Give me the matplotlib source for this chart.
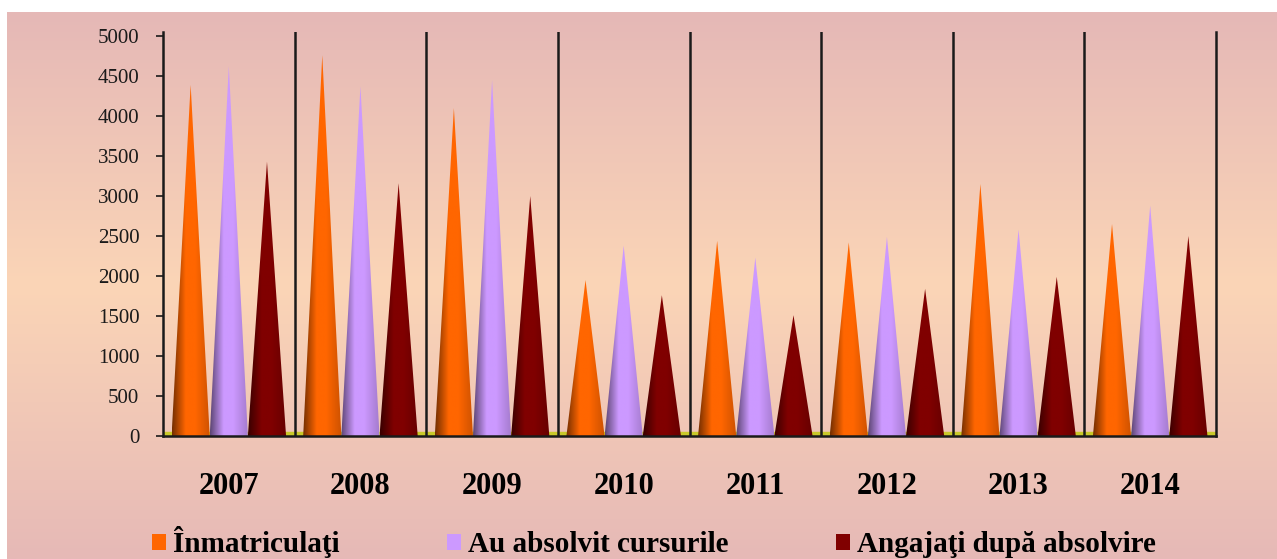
import numpy as np
import matplotlib
matplotlib.use("Agg")
import matplotlib.pyplot as plt
from matplotlib.patches import Polygon, Patch
from matplotlib.colors import to_rgb

# Data
years = ["2007", "2008", "2009", "2010", "2011", "2012", "2013", "2014"]
inmatriculati = [4390, 4760, 4100, 1950, 2440, 2420, 3150, 2650]
absolventi = [4620, 4370, 4450, 2380, 2230, 2490, 2580, 2880]
angajati = [3430, 3160, 3000, 1760, 1510, 1840, 1990, 2500]

series_names = ["Înmatriculaţi", "Au absolvit cursurile", "Angajaţi după absolvire"]
series_colors = ["#FF6600", "#CC99FF", "#800000"]
yticks = [0, 500, 1000, 1500, 2000, 2500, 3000, 3500, 4000, 4500, 5000]

plt.rcParams['font.family'] = ['Liberation Serif', 'DejaVu Serif']

fig = plt.figure(figsize=(12.77, 5.59), dpi=100)
fig.patch.set_facecolor("white")

# gradient background (pink -> peach -> pink), white margin on top/left
bg = fig.add_axes([7 / 1277, 0, 1 - 7 / 1277, (559 - 12) / 559], zorder=-5)
top = np.array([229, 184, 183]) / 255
mid = np.array([251, 213, 182]) / 255
bot = np.array([230, 185, 183]) / 255
t = np.linspace(0, 1, 300)[:, None]
grad = np.where(t < 0.5, top + (mid - top) * (t / 0.5), mid + (bot - mid) * ((t - 0.5) / 0.5))
bg.imshow(grad[:, None, :], aspect="auto", extent=[0, 1, 0, 1])
bg.axis("off")

ax = fig.add_axes([163 / 1277, 1 - 436 / 559, (1216 - 163) / 1277, (436 - 32) / 559])
ax.set_facecolor("none")
ymax = 5000 * (436 - 32) / (436 - 36)
ax.set_xlim(-0.5, len(years) - 0.5)
ax.set_ylim(0, ymax)

# floor
ax.axhspan(0, 55, color="#c9c92a", zorder=1)

# horizontal shading profile across a cone
u = np.linspace(0, 1, 120)
shade = np.interp(u, [0, 0.35, 0.6, 1], [0.45, 1.0, 1.0, 0.8])

width = 0.29
offsets = [-width, 0, width]
all_series = [inmatriculati, absolventi, angajati]
x = np.arange(len(years))
for s, vals in enumerate(all_series):
    base = np.array(to_rgb(series_colors[s]))
    img = np.clip(shade[:, None] * base[None, :], 0, 1)[None, :, :]
    for i, v in enumerate(vals):
        cx = x[i] + offsets[s]
        x0, x1 = cx - width / 2, cx + width / 2
        tri = Polygon([[x0, 0], [x1, 0], [cx, v]], closed=True, facecolor="none",
                      edgecolor="none", transform=ax.transData)
        ax.add_patch(tri)
        im = ax.imshow(img, extent=[x0, x1, 0, v], aspect="auto", zorder=3,
                       interpolation="bilinear")
        im.set_clip_path(tri)

ax.set_xlim(-0.5, len(years) - 0.5)
ax.set_ylim(0, ymax)

# category dividers
for b in np.arange(0.5, len(years) - 0.5, 1):
    ax.axvline(b, color="#1a1a1a", lw=1.8, zorder=4)

ax.spines["top"].set_visible(False)
for side in ["left", "right", "bottom"]:
    ax.spines[side].set_color("#1a1a1a")
    ax.spines[side].set_linewidth(1.8)
    ax.spines[side].set_zorder(5)

ax.set_yticks(yticks)
ax.set_yticklabels([str(v) for v in yticks], fontsize=15)
ax.tick_params(axis="y", length=5, width=1.2, pad=12, colors="#1a1a1a")
ax.set_xticks(x)
ax.set_xticklabels(years, fontsize=22, fontweight="bold")
ax.tick_params(axis="x", length=0, pad=26)

handles = [Patch(facecolor=c, edgecolor="none") for c in series_colors]
fig.legend(handles, series_names, loc="center", bbox_to_anchor=(654 / 1277, 1 - 542 / 559),
           ncol=3, frameon=False, prop={"size": 21, "weight": "bold"},
           handlelength=0.48, handleheight=0.48, handletextpad=0.24, columnspacing=3.7,
           borderpad=0)

fig.savefig("out.png", dpi=100)
